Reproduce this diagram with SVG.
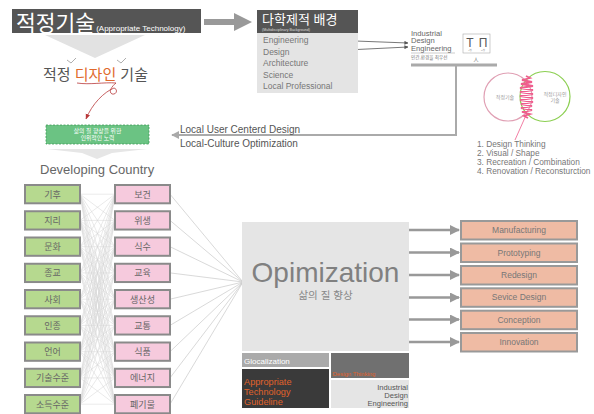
<svg xmlns="http://www.w3.org/2000/svg" width="594" height="414" viewBox="0 0 594 414">
<style>
.kr{font-family:"Liberation Sans","Noto Sans CJK KR",sans-serif}
.lat{font-family:"Liberation Sans",Arial,sans-serif}
.gbox{fill:#b6d98f;stroke:#8a8a8a;stroke-width:2}
.pbox{fill:#f6cadd;stroke:#8a8a8a;stroke-width:2}
.obox{fill:#efbba4;stroke:#999;stroke-width:2}
.lbl{font-size:9px;fill:#666;text-anchor:middle}
.olbl{font-size:8.5px;fill:#777;text-anchor:middle}
.mesh{stroke:#d4d4d4;stroke-width:0.5;fill:none}
.fan{stroke:#c8c8c8;stroke-width:0.7;fill:none}
.flow{stroke:#999;stroke-width:2.5;fill:none}
</style>
<defs>
<marker id="head" viewBox="0 0 10 10" refX="9" refY="5" markerWidth="4" markerHeight="4" orient="auto" markerUnits="strokeWidth">
<path d="M0 0L10 5L0 10Z" fill="#999"/>
</marker>
<marker id="thin" viewBox="0 0 10 10" refX="9" refY="5" markerWidth="5" markerHeight="5" orient="auto" markerUnits="strokeWidth">
<path d="M0 0L10 5L0 10Z" fill="#555"/>
</marker>
<marker id="grayhead" viewBox="0 0 10 10" refX="9" refY="5" markerWidth="4" markerHeight="4" orient="auto" markerUnits="strokeWidth">
<path d="M0 0L10 5L0 10Z" fill="#aaa"/>
</marker>
<marker id="redhead" viewBox="0 0 10 10" refX="9" refY="5" markerWidth="7" markerHeight="7" orient="auto" markerUnits="strokeWidth">
<path d="M0 1L10 5L0 9Z" fill="#b8383a"/>
</marker>
</defs>

<!-- connectors -->
<g id="connectors">
<!-- title to multidisciplinary block -->
<polygon points="204,19 234,19 234,13 252,22 234,31 234,25 204,25" fill="#999"/>
<!-- title downward chevron -->
<polygon points="45,35 145,35 95,58" fill="#e2e2e2"/>
<!-- engineering/design into IDE -->
<circle cx="312" cy="39.5" r="0.8" fill="#555"/>
<circle cx="312" cy="51.5" r="0.8" fill="#555"/>
<path d="M316 39.5L408 43" stroke="#555" stroke-width="0.8" fill="none" marker-end="url(#thin)"/>
<path d="M316 51.5L408 47" stroke="#555" stroke-width="0.8" fill="none" marker-end="url(#thin)"/>
<!-- IDE to local design -->
<path d="M456 66V135H172" stroke="#aaa" stroke-width="2" fill="none" marker-end="url(#grayhead)"/>
<!-- red hand-drawn arrow -->
<path d="M77 83C90 85 104 82 116 83" stroke="#b8383a" stroke-width="0.8" fill="none"/>
<path d="M116 83C112 86 108 92 112 94C117 95 118 89 114 88C104 92 92 104 86 119" stroke="#b8383a" stroke-width="0.8" fill="none" marker-end="url(#redhead)"/>
<!-- developing country chevron -->
<polygon points="47,149 147,149 112,153 97,159 82,153" fill="#e6e6e6"/>
<!-- factor mesh -->
<path class="mesh" d="M80 194.2L115 194.2M80 194.2L115 220.4M80 194.2L115 246.7M80 194.2L115 272.9M80 194.2L115 299.2M80 194.2L115 325.4M80 194.2L115 351.7M80 194.2L115 377.9M80 194.2L115 404.2
M80 220.4L115 194.2M80 220.4L115 220.4M80 220.4L115 246.7M80 220.4L115 272.9M80 220.4L115 299.2M80 220.4L115 325.4M80 220.4L115 351.7M80 220.4L115 377.9M80 220.4L115 404.2
M80 246.7L115 194.2M80 246.7L115 220.4M80 246.7L115 246.7M80 246.7L115 272.9M80 246.7L115 299.2M80 246.7L115 325.4M80 246.7L115 351.7M80 246.7L115 377.9M80 246.7L115 404.2
M80 272.9L115 194.2M80 272.9L115 220.4M80 272.9L115 246.7M80 272.9L115 272.9M80 272.9L115 299.2M80 272.9L115 325.4M80 272.9L115 351.7M80 272.9L115 377.9M80 272.9L115 404.2
M80 299.2L115 194.2M80 299.2L115 220.4M80 299.2L115 246.7M80 299.2L115 272.9M80 299.2L115 299.2M80 299.2L115 325.4M80 299.2L115 351.7M80 299.2L115 377.9M80 299.2L115 404.2
M80 325.4L115 194.2M80 325.4L115 220.4M80 325.4L115 246.7M80 325.4L115 272.9M80 325.4L115 299.2M80 325.4L115 325.4M80 325.4L115 351.7M80 325.4L115 377.9M80 325.4L115 404.2
M80 351.7L115 194.2M80 351.7L115 220.4M80 351.7L115 246.7M80 351.7L115 272.9M80 351.7L115 299.2M80 351.7L115 325.4M80 351.7L115 351.7M80 351.7L115 377.9M80 351.7L115 404.2
M80 377.9L115 194.2M80 377.9L115 220.4M80 377.9L115 246.7M80 377.9L115 272.9M80 377.9L115 299.2M80 377.9L115 325.4M80 377.9L115 351.7M80 377.9L115 377.9M80 377.9L115 404.2
M80 404.2L115 194.2M80 404.2L115 220.4M80 404.2L115 246.7M80 404.2L115 272.9M80 404.2L115 299.2M80 404.2L115 325.4M80 404.2L115 351.7M80 404.2L115 377.9M80 404.2L115 404.2"/>
<!-- needs fan into optimization -->
<path class="fan" d="M170 194.2L243 282M170 220.4L243 282M170 246.7L243 282M170 272.9L243 282M170 299.2L243 282M170 325.4L243 282M170 351.7L243 282M170 377.9L243 282M170 404.2L243 282"/>
<!-- outputs -->
<path class="flow" d="M409 230H459" marker-end="url(#head)"/>
<path class="flow" d="M409 252.5H459" marker-end="url(#head)"/>
<path class="flow" d="M409 275H459" marker-end="url(#head)"/>
<path class="flow" d="M409 297.5H459" marker-end="url(#head)"/>
<path class="flow" d="M409 319.5H459" marker-end="url(#head)"/>
<path class="flow" d="M409 342H459" marker-end="url(#head)"/>
</g>

<!-- title -->
<g id="title">
<rect x="12" y="9" width="189" height="24" fill="#555"/>
<text x="16" y="31" class="kr" font-size="21.5" fill="#fff">적정기술<tspan class="lat" font-size="8" dx="1">(Appropriate Technology)</tspan></text>
</g>

<!-- appropriate design technology -->
<g id="design-tech">
<text x="43" y="80" class="kr" font-size="15" fill="#555">적정 <tspan fill="#e0692c">디자인</tspan> 기술</text>
<path d="M67 60L71 63L76 58M117 60L121 63L126 58" stroke="#777" stroke-width="0.6" fill="none"/>
</g>

<!-- multidisciplinary background -->
<g id="multidisciplinary">
<rect x="257" y="10" width="101" height="23" fill="#555"/>
<text x="262" y="24" class="kr" font-size="13" fill="#fff">다학제적 배경</text>
<text x="262" y="30.5" class="lat" font-size="3.6" fill="#ddd">(Multidisciplinary Background)</text>
<rect x="257" y="33" width="101" height="60" fill="#e4e4e4"/>
<g class="lat" font-size="8.5" fill="#777">
<text x="263" y="42.5">Engineering</text>
<text x="263" y="54.5">Design</text>
<text x="263" y="66">Architecture</text>
<text x="263" y="77.5">Science</text>
<text x="263" y="89">Local Professional</text>
</g>
</g>

<!-- industrial design engineering -->
<g id="ide">
<g class="lat" font-size="7.6" fill="#666">
<text x="411" y="35.5">Industrial</text>
<text x="411" y="43">Design</text>
<text x="411" y="50.5">Engineering</text>
</g>
<line x1="411" y1="53" x2="455" y2="53" stroke="#999" stroke-width="0.5"/>
<text x="411" y="59" class="kr" font-size="4.6" fill="#777">인간,환경을 최우선</text>
<rect x="463" y="34" width="27" height="19" fill="#fff" stroke="#aaa" stroke-width="0.6"/>
<text x="470" y="47" class="lat" font-size="12" fill="#555" text-anchor="middle">T</text>
<text x="483" y="47" class="lat" font-size="12" fill="#555" text-anchor="middle">Π</text>
<text x="470" y="51" class="kr" font-size="2.5" fill="#999" text-anchor="middle">1형</text>
<text x="483" y="51" class="kr" font-size="2.5" fill="#999" text-anchor="middle">π형</text>
<text x="476" y="61" class="kr" font-size="5" fill="#777" text-anchor="middle">人</text>
<rect x="411" y="63.5" width="86" height="3" fill="#aaa"/>
</g>

<!-- venn of technology and design -->
<g id="venn">
<circle cx="508" cy="97" r="24" fill="none" stroke="#e0a0b4" stroke-width="1.2"/>
<circle cx="545" cy="96.5" r="25" fill="none" stroke="#8ccf52" stroke-width="1.2"/>
<path d="M526 76L530 78L522 80L532 82L521 84L533 86L520 88L533 90L520 92L533 94L520 96L533 98L520 100L533 102L521 104L532 106L521 108L532 110L522 112L530 114L524 116L528 118" stroke="#ef5d8d" stroke-width="1.8" fill="none"/>
<path d="M527 113L515 140" stroke="#ef5d8d" stroke-width="0.8"/>
<text x="505" y="98.5" class="kr" font-size="5" fill="#999" text-anchor="middle">적정기술</text>
<text x="555" y="96" class="kr" font-size="5" fill="#999" text-anchor="middle">적정디자인</text>
<text x="555" y="101.5" class="kr" font-size="5" fill="#999" text-anchor="middle">기술</text>
<g class="lat" font-size="8.3" fill="#777">
<text x="477" y="147">1. Design Thinking</text>
<text x="477" y="156">2. Visual / Shape</text>
<text x="477" y="165">3. Recreation / Combination</text>
<text x="477" y="174">4. Renovation / Reconsturction</text>
</g>
</g>

<!-- local design labels -->
<g id="local-design" class="lat" font-size="10" fill="#555">
<text x="180" y="133">Local User Centerd Design</text>
<text x="180" y="147">Local-Culture Optimization</text>
</g>

<!-- human effort -->
<g id="effort">
<rect x="46" y="125" width="103" height="19" fill="#6bc383" stroke="#3f9a58" stroke-width="0.8" stroke-dasharray="2,1.5"/>
<text x="97.5" y="133" class="kr" font-size="5.8" fill="#fff" text-anchor="middle">삶의 질 향상을 위한</text>
<text x="97.5" y="139.8" class="kr" font-size="5.8" fill="#fff" text-anchor="middle">인위적인 노력</text>
</g>

<g id="developing-country">
<text x="40" y="174" class="lat" font-size="13" fill="#666">Developing Country</text>
</g>

<!-- local factors -->
<g id="factors" class="kr">
<g id="f1"><rect class="gbox" x="25" y="185" width="55" height="18.3"/><text class="lbl" x="52.5" y="197.5">기후</text></g>
<g id="f2"><rect class="gbox" x="25" y="211.25" width="55" height="18.3"/><text class="lbl" x="52.5" y="223.7">지리</text></g>
<g id="f3"><rect class="gbox" x="25" y="237.5" width="55" height="18.3"/><text class="lbl" x="52.5" y="250">문화</text></g>
<g id="f4"><rect class="gbox" x="25" y="263.75" width="55" height="18.3"/><text class="lbl" x="52.5" y="276.2">종교</text></g>
<g id="f5"><rect class="gbox" x="25" y="290" width="55" height="18.3"/><text class="lbl" x="52.5" y="302.5">사회</text></g>
<g id="f6"><rect class="gbox" x="25" y="316.25" width="55" height="18.3"/><text class="lbl" x="52.5" y="328.7">인종</text></g>
<g id="f7"><rect class="gbox" x="25" y="342.5" width="55" height="18.3"/><text class="lbl" x="52.5" y="355">언어</text></g>
<g id="f8"><rect class="gbox" x="25" y="368.75" width="55" height="18.3"/><text class="lbl" x="52.5" y="381.2">기술수준</text></g>
<g id="f9"><rect class="gbox" x="25" y="395" width="55" height="18.3"/><text class="lbl" x="52.5" y="407.5">소득수준</text></g>
</g>

<!-- needs -->
<g id="needs" class="kr">
<g id="n1"><rect class="pbox" x="115" y="185" width="55" height="18.3"/><text class="lbl" x="142.5" y="197.5">보건</text></g>
<g id="n2"><rect class="pbox" x="115" y="211.25" width="55" height="18.3"/><text class="lbl" x="142.5" y="223.7">위생</text></g>
<g id="n3"><rect class="pbox" x="115" y="237.5" width="55" height="18.3"/><text class="lbl" x="142.5" y="250">식수</text></g>
<g id="n4"><rect class="pbox" x="115" y="263.75" width="55" height="18.3"/><text class="lbl" x="142.5" y="276.2">교육</text></g>
<g id="n5"><rect class="pbox" x="115" y="290" width="55" height="18.3"/><text class="lbl" x="142.5" y="302.5">생산성</text></g>
<g id="n6"><rect class="pbox" x="115" y="316.25" width="55" height="18.3"/><text class="lbl" x="142.5" y="328.7">교통</text></g>
<g id="n7"><rect class="pbox" x="115" y="342.5" width="55" height="18.3"/><text class="lbl" x="142.5" y="355">식품</text></g>
<g id="n8"><rect class="pbox" x="115" y="368.75" width="55" height="18.3"/><text class="lbl" x="142.5" y="381.2">에너지</text></g>
<g id="n9"><rect class="pbox" x="115" y="395" width="55" height="18.3"/><text class="lbl" x="142.5" y="407.5">폐기물</text></g>
</g>

<!-- optimization -->
<g id="optimization">
<rect x="242" y="222" width="167" height="129" fill="#e5e5e5"/>
<text x="325.5" y="281.5" class="lat" font-size="28" fill="#808080" text-anchor="middle">Opimization</text>
<text x="325.5" y="298.5" class="kr" font-size="10.5" fill="#888" text-anchor="middle">삶의 질 향상</text>
</g>
<g id="glocalization">
<rect x="242" y="353" width="87" height="14" fill="#aaa"/>
<text x="244" y="363.5" class="lat" font-size="8" fill="#fff">Glocalization</text>
</g>
<g id="design-thinking">
<rect x="331" y="353" width="78" height="25" fill="#707070"/>
<text x="332.5" y="375.5" class="lat" font-size="6" fill="#e0622a">Design Thinking</text>
</g>
<g id="guideline">
<rect x="242" y="369" width="87" height="39" fill="#3a3a3a"/>
<g class="lat" font-size="9.2" fill="#e0622a">
<text x="244" y="385">Appropriate</text>
<text x="244" y="395">Technology</text>
<text x="244" y="404.5">Guideline</text>
</g>
</g>
<g id="ide-block">
<rect x="331" y="380" width="78" height="28" fill="#e5e5e5"/>
<g class="lat" font-size="7.6" fill="#555" text-anchor="end">
<text x="408" y="389.5">Industrial</text>
<text x="408" y="397.5">Design</text>
<text x="408" y="405.5">Engineering</text>
</g>
</g>

<!-- outcomes -->
<g id="outcomes" class="lat">
<g id="o1"><rect class="obox" x="461" y="221" width="116" height="18.5"/><text class="olbl" x="519" y="233">Manufacturing</text></g>
<g id="o2"><rect class="obox" x="461" y="243.5" width="116" height="18.5"/><text class="olbl" x="519" y="255.5">Prototyping</text></g>
<g id="o3"><rect class="obox" x="461" y="266" width="116" height="18.5"/><text class="olbl" x="519" y="278">Redesign</text></g>
<g id="o4"><rect class="obox" x="461" y="288.3" width="116" height="18.5"/><text class="olbl" x="519" y="300.3">Sevice Design</text></g>
<g id="o5"><rect class="obox" x="461" y="310.7" width="116" height="18.5"/><text class="olbl" x="519" y="322.7">Conception</text></g>
<g id="o6"><rect class="obox" x="461" y="333" width="116" height="18.5"/><text class="olbl" x="519" y="345">Innovation</text></g>
</g>
</svg>
